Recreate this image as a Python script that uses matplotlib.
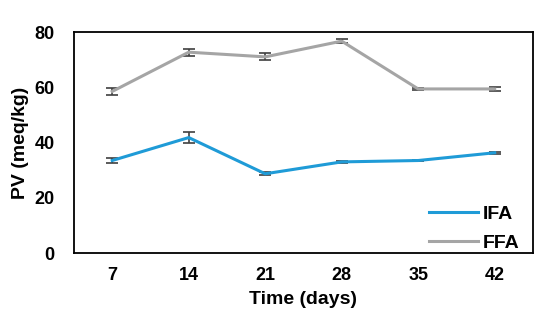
import matplotlib
matplotlib.use('Agg')
import matplotlib.pyplot as plt

# data
days = ['7', '14', '21', '28', '35', '42']
ifa = [33.5, 41.8, 28.7, 33.0, 33.5, 36.3]
ifa_err = [0.8, 2.0, 0.5, 0.3, 0.3, 0.3]
ffa = [58.5, 72.7, 71.0, 76.7, 59.4, 59.4]
ffa_err = [1.3, 1.3, 1.3, 0.6, 0.4, 0.8]

plt.rcParams['font.family'] = ['Liberation Sans', 'DejaVu Sans']
plt.rcParams['font.weight'] = 'bold'

fig = plt.figure(figsize=(5.5, 3.22), dpi=100)
ax = fig.add_axes([0.1345, 0.214, 0.8345, 0.6866])

x = range(len(days))
ax.errorbar(x, ifa, yerr=ifa_err, color='#1f9bd7', lw=2.2, ecolor='#404040',
            elinewidth=1.2, capsize=4, capthick=1.2, label='IFA')
ax.errorbar(x, ffa, yerr=ffa_err, color='#a5a5a5', lw=2.2, ecolor='#404040',
            elinewidth=1.2, capsize=4, capthick=1.2, label='FFA')

ax.set_xlim(-0.5, 5.5)
ax.set_ylim(0, 80)
ax.set_yticks([0, 20, 40, 60, 80])
ax.set_xticks(list(x))
ax.set_xticklabels(days)
ax.tick_params(length=0, labelsize=13, pad=10)
ax.tick_params(axis='y', pad=14)
for s in ax.spines.values():
    s.set_linewidth(1.3)

ax.set_xlabel('Time (days)', fontsize=14, fontweight='bold', labelpad=5)
ax.set_ylabel('PV (meq/kg)', fontsize=14, fontweight='bold', labelpad=4)

handles, labels = ax.get_legend_handles_labels()
handles = [h[0] for h in handles]
ax.legend(handles, labels, loc='lower right', bbox_to_anchor=(0.975, -0.005),
          frameon=False, fontsize=14, handlelength=2.5, handletextpad=0.25,
          labelspacing=0.6, borderpad=0.1, borderaxespad=0.0)

fig.savefig('out.png', dpi=100)
